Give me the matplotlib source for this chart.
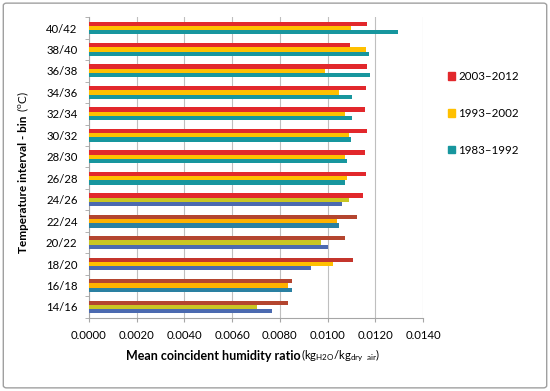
import numpy as np
import matplotlib.pyplot as plt
from matplotlib.patches import FancyBboxPatch, Patch

plt.rcParams['font.family'] = ['Lato', 'DejaVu Sans']
plt.rcParams['mathtext.fontset'] = 'custom'
plt.rcParams['mathtext.rm'] = 'Lato'
plt.rcParams['mathtext.bf'] = 'Lato:bold'

# data, bottom to top
bins = ['14/16', '16/18', '18/20', '20/22', '22/24', '24/26', '26/28',
        '28/30', '30/32', '32/34', '34/36', '36/38', '38/40', '40/42']
p2003 = [0.00834, 0.00849, 0.01107, 0.01071, 0.01124, 0.01149, 0.01159,
         0.01156, 0.01163, 0.01155, 0.01159, 0.01164, 0.01093, 0.01163]
p1993 = [0.00703, 0.00835, 0.01021, 0.00972, 0.01040, 0.01088, 0.01081,
         0.01074, 0.01089, 0.01074, 0.01049, 0.00989, 0.01159, 0.01096]
p1983 = [0.00768, 0.00852, 0.00930, 0.01001, 0.01046, 0.01061, 0.01071,
         0.01081, 0.01099, 0.01102, 0.01102, 0.01177, 0.01173, 0.01295]
labels = ['2003\u20132012', '1993\u20132002', '1983\u20131992']

red, yel, teal = '#e2282c', '#ffc000', '#17969e'
brown, ygreen, blue, orng, tblue = '#b4452f', '#c9c623', '#4b6ab0', '#ffb100', '#2a80a2'
# per-bar colours as seen in the picture (lower bins look recoloured)
c2003 = [brown, brown, '#c4352c', brown, brown] + [red] * 9
c1993 = [ygreen, orng, yel, ygreen, orng, ygreen] + [yel] * 8
c1983 = [blue, tblue, blue, blue, tblue, blue] + [teal] * 8

fig = plt.figure(figsize=(5.5, 3.91), dpi=100)
ax = fig.add_axes([0.1613, 0.1875, 0.6083, 0.7683])

y = np.arange(len(bins))
h = 0.2
ax.barh(y + h, p2003, height=h, color=c2003, zorder=3)
ax.barh(y, p1993, height=h, color=c1993, zorder=3)
ax.barh(y - h, p1983, height=h, color=c1983, zorder=3)

ax.set_xlim(0, 0.014)
ax.set_ylim(-0.5, len(bins) - 0.5)
ax.set_xticks(np.arange(0, 0.0141, 0.002))
ax.set_xticklabels(['%.4f' % v for v in np.arange(0, 0.0141, 0.002)], fontsize=8.2)
ax.set_yticks(y)
ax.set_yticklabels(bins, fontsize=8.2)
ax.set_yticks(np.arange(-0.5, len(bins), 1), minor=True)
ax.tick_params(axis='y', which='major', length=0, pad=8)
ax.tick_params(axis='y', which='minor', length=3, color='#a6a6a6')
ax.tick_params(axis='x', length=3, color='#a6a6a6', pad=6)
ax.grid(axis='x', color='#bfbfbf', lw=0.8, zorder=0)
for s in ['top', 'right']:
    ax.spines[s].set_visible(False)
for s in ['left', 'bottom']:
    ax.spines[s].set_color('#a6a6a6')

# axis titles: bold part followed by a normal-weight part
fig.canvas.draw()
r = fig.canvas.get_renderer()
inv = fig.transFigure.inverted()

xb = fig.text(0.229, 0.09, 'Mean coincident humidity ratio', fontweight='bold',
              fontsize=9, ha='left', va='center')
bb = inv.transform(xb.get_window_extent(r))
fig.text(bb[1][0], 0.09, r'(kg$_{\mathrm{H2O}}$/kg$_{\mathrm{dry\ \ air}}$)',
         fontsize=8.2, ha='left', va='center')

yb = fig.text(0.042, 0.353, 'Temperature interval - bin', fontweight='bold', fontsize=8.5,
              rotation=90, rotation_mode='anchor', ha='left', va='center')
bb = inv.transform(yb.get_window_extent(r))
fig.text(0.042, bb[1][1] + 0.01, r'($^{\mathrm{o}}$C)', fontsize=8.5,
         rotation=90, rotation_mode='anchor', ha='left', va='center')

handles = [Patch(color=c) for c in [red, yel, teal]]
fig.legend(handles, labels, loc='upper left', bbox_to_anchor=(0.795, 0.845),
           frameon=False, fontsize=8.3, handlelength=0.6, handleheight=0.6,
           handletextpad=0.3, labelspacing=2.25)

fig.patches.append(FancyBboxPatch((0.006, 0.008), 0.988, 0.984, boxstyle='round,pad=0,rounding_size=0.006',
                                  transform=fig.transFigure, fill=False, ec='#a0a0a0', lw=1.0))

fig.savefig('out.png', dpi=100)
